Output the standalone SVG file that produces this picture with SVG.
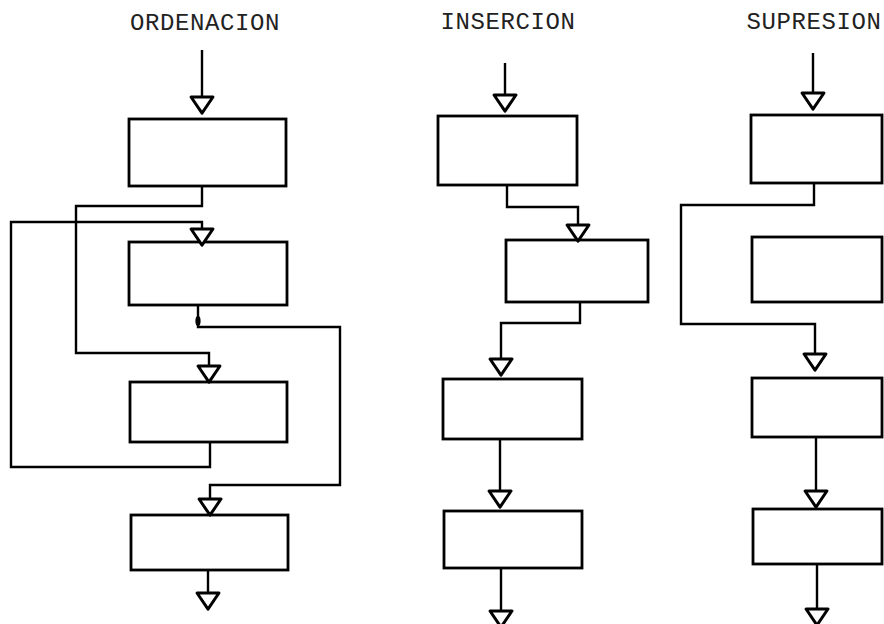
<svg xmlns="http://www.w3.org/2000/svg" width="884" height="624" viewBox="0 0 884 624">
  <style>
    .box { fill: none; stroke: #000; stroke-width: 2.8; stroke-linejoin: miter; }
    .wire { fill: none; stroke: #000; stroke-width: 2.4; stroke-linejoin: miter; marker-end: url(#head); }
    .title { font-family: "Liberation Mono", "DejaVu Sans Mono", monospace; font-size: 24px; letter-spacing: 0.6px; fill: #222; text-anchor: middle; }
  </style>
  <defs>
    <!-- open triangular arrowhead, base at the end of the line -->
    <marker id="head" markerUnits="userSpaceOnUse" orient="auto" refX="0" refY="0" markerWidth="30" markerHeight="30" viewBox="-2 -13 20 26" overflow="visible">
      <path d="M0 -9.5 L0 9.5 L14 0 Z" fill="#fff" stroke="#000" stroke-width="2.6" stroke-linejoin="round"/>
    </marker>
  </defs>
  <rect width="884" height="624" fill="#fff"/>

  <!-- column titles -->
  <text class="title" x="205" y="30">ORDENACION</text>
  <text class="title" x="508" y="29">INSERCION</text>
  <text class="title" x="814" y="29">SUPRESION</text>

  <!-- ORDENACION blocks -->
  <g id="ord-1"><rect class="box" x="129" y="119" width="157" height="67"/></g>
  <g id="ord-2"><rect class="box" x="129" y="242" width="158" height="63"/></g>
  <g id="ord-3"><rect class="box" x="130" y="382" width="157" height="60"/></g>
  <g id="ord-4"><rect class="box" x="131" y="515" width="157" height="55"/></g>

  <!-- INSERCION blocks -->
  <g id="ins-1"><rect class="box" x="438" y="116" width="139" height="69"/></g>
  <g id="ins-2"><rect class="box" x="506" y="240" width="142" height="62"/></g>
  <g id="ins-3"><rect class="box" x="443" y="379" width="139" height="60"/></g>
  <g id="ins-4"><rect class="box" x="444" y="511" width="138" height="57"/></g>

  <!-- SUPRESION blocks -->
  <g id="sup-1"><rect class="box" x="751" y="115" width="131" height="68"/></g>
  <g id="sup-2"><rect class="box" x="752" y="237" width="130" height="65"/></g>
  <g id="sup-3"><rect class="box" x="752" y="378" width="130" height="59"/></g>
  <g id="sup-4"><rect class="box" x="753" y="509" width="129" height="55"/></g>

  <g id="connectors">
    <!-- ORDENACION -->
    <path class="wire" d="M202 50 V97"/>
    <path class="wire" d="M202 186 V206 H76 V353 H209 V366"/>
    <path class="wire" d="M210 442 V467 H11 V222 H202 V229"/>
    <path class="wire" d="M198 305 V327 H340 V485 H210 V499"/>
    <ellipse cx="198" cy="321" rx="2.6" ry="5" fill="#000"/>
    <path class="wire" d="M208 570 V593"/>

    <!-- INSERCION -->
    <path class="wire" d="M505 63 V95"/>
    <path class="wire" d="M507 185 V207 H578 V225"/>
    <path class="wire" d="M580 302 V323 H501 V359"/>
    <path class="wire" d="M500 439 V491"/>
    <path class="wire" d="M501 568 V611"/>

    <!-- SUPRESION -->
    <path class="wire" d="M813 53 V93"/>
    <path class="wire" d="M814 183 V205 H681 V324 H815 V354"/>
    <path class="wire" d="M816 437 V491"/>
    <path class="wire" d="M817 564 V609"/>
  </g>
</svg>
